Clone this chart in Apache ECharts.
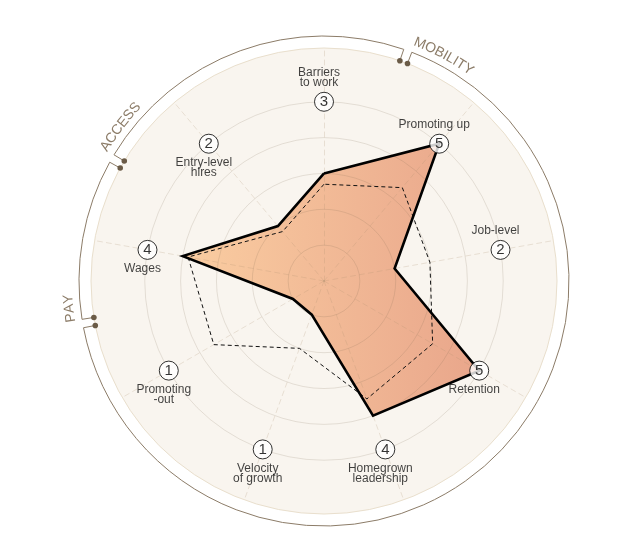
<!DOCTYPE html>
<html>
<head>
<meta charset="utf-8">
<script src="https://cdn.jsdelivr.net/npm/echarts@6/dist/echarts.min.js"></script>
<style>
  html, body { margin: 0; padding: 0; background: #fff; }
  #chart { width: 644px; height: 547px; }
</style>
</head>
<body>
<div id="chart"></div>
<script>
// indicators, clockwise from the top
const categories = ['Barriers\nto work', 'Promoting up', 'Job-level', 'Retention', 'Homegrown\nleadership',
  'Velocity\nof growth', 'Promoting\n-out', 'Wages', 'Entry-level\nhires']
const scores = [3, 5, 2, 5, 4, 1, 1, 4, 2]
// dashed reference outline
const benchmark = [2.7, 3.4, 3.0, 3.5, 3.5, 2.0, 3.55, 3.85, 1.8]
const groups = ['ACCESS', 'MOBILITY', 'MOBILITY', 'MOBILITY', 'MOBILITY', 'MOBILITY', 'MOBILITY', 'PAY', 'ACCESS']
const scaleMax = 5

// layout
const CX = 324, CY = 281
const DISK_R = 233          // beige disk
const AXIS_MAX = 6.5        // value at disk edge (5 sits at ~179px)
const ARC_R = 245
const GROUP_TEXT_R = 256
const FONT = '"Liberation Sans", Arial, Helvetica, sans-serif'
const n = categories.length
const step = 360 / n
const labelAbove = [0, 1, 2]   // names drawn above the badge

// radar runs counter-clockwise, so feed it in reverse order
const order = [0].concat(categories.map((_, i) => n - 1 - i).slice(0, n - 1))
const indicator = order.map(i => ({ name: categories[i], min: 0, max: AXIS_MAX }))

// ring colours: ticks every 0.5, rings visible at 1..5
const ringColors = []
const edgeColors = []
for (let i = 0; i <= AXIS_MAX * 2; i++) {
  ringColors.push(i % 2 === 0 && i > 0 && i <= scaleMax * 2 ? 'rgba(120,100,80,0.17)' : 'rgba(0,0,0,0)')
  edgeColors.push(i === AXIS_MAX * 2 ? '#e9dfcd' : 'rgba(0,0,0,0)')
}

// ----- outer group arcs -----
const rad = d => d * Math.PI / 180
const polarXY = (deg, r) => [CX + r * Math.sin(rad(deg)), CY - r * Math.cos(rad(deg))]
const graphics = []
const boundaries = []
for (let i = 0; i < n; i++) {
  if (groups[i] !== groups[(i + 1) % n]) boundaries.push({ at: (i + 0.5) * step, next: groups[(i + 1) % n] })
}
const measure = document.createElement('canvas').getContext('2d')
measure.font = '14px ' + FONT
boundaries.forEach((b, k) => {
  const nextB = boundaries[(k + 1) % boundaries.length]
  let start = b.at + 1
  let end = nextB.at - 1
  if (end <= start) end += 360
  graphics.push({
    type: 'arc', silent: true,
    shape: { cx: CX, cy: CY, r: ARC_R, startAngle: rad(start - 90), endAngle: rad(end - 90), clockwise: true },
    style: { stroke: '#8c7c68', fill: 'none', lineWidth: 1 }
  });
  [b.at - 1, b.at + 1].forEach(a => {
    const p1 = polarXY(a, ARC_R), p2 = polarXY(a, DISK_R + 2)
    graphics.push({ type: 'line', silent: true, shape: { x1: p1[0], y1: p1[1], x2: p2[0], y2: p2[1] },
      style: { stroke: '#8c7c68', lineWidth: 1 } })
    const d = polarXY(a, DISK_R)
    graphics.push({ type: 'circle', silent: true, z: 10, shape: { cx: d[0], cy: d[1], r: 2.8 }, style: { fill: '#6b5b47' } })
  })
  // group name, letter by letter along the arc
  let acc = start - 0.3
  for (const ch of b.next) {
    const w = measure.measureText(ch).width
    const dw = w / GROUP_TEXT_R * 180 / Math.PI
    const mid = acc + dw / 2
    const p = polarXY(mid, GROUP_TEXT_R)
    graphics.push({
      type: 'text', silent: true, x: p[0], y: p[1], rotation: -rad(mid),
      style: { text: ch, fontSize: 14, fontFamily: FONT, fill: '#8c7c68', align: 'center', verticalAlign: 'middle' }
    })
    acc += dw
  }
})

const chart = echarts.init(document.getElementById('chart'))

const radarBase = {
  center: [CX, CY], radius: DISK_R, shape: 'circle', startAngle: 90, splitNumber: AXIS_MAX * 2,
  indicator, axisName: { show: false }, axisTick: { show: false }, axisLabel: { show: false }
}

const scoreValues = order.map(i => scores[i])

chart.setOption({
  animation: false,
  backgroundColor: '#fff',
  radar: [
    Object.assign({}, radarBase, {
      z: 0,
      axisLine: { show: false },
      splitLine: { show: true, lineStyle: { color: edgeColors, width: 1 } },
      splitArea: { show: true, areaStyle: { color: ['#f9f5ef'] } }
    }),
    Object.assign({}, radarBase, {
      z: 3,
      axisLine: { show: true, lineStyle: { color: 'rgba(170,140,110,0.22)', width: 1, type: [5, 4] } },
      splitLine: { show: true, lineStyle: { color: ringColors, width: 1 } },
      splitArea: { show: false }
    })
  ],
  polar: { center: [CX, CY], radius: DISK_R },
  angleAxis: { type: 'value', min: 0, max: 360, startAngle: 90, clockwise: true, show: false,
    splitLine: { show: false }, axisLine: { show: false } },
  radiusAxis: { type: 'value', min: 0, max: AXIS_MAX, show: false, splitLine: { show: false } },
  graphic: graphics,
  series: [
    {
      // score area
      type: 'radar', radarIndex: 0, z: 2, symbol: 'none', silent: true,
      lineStyle: { width: 0, opacity: 0 },
      areaStyle: {
        opacity: 1,
        color: new echarts.graphic.LinearGradient(0, 0, 1, 0, [
          { offset: 0, color: '#facda1' },
          { offset: 1, color: '#e9a68b' }
        ])
      },
      data: [{ value: scoreValues }]
    },
    {
      type: 'radar', radarIndex: 0, z: 4, symbol: 'none', silent: true,
      lineStyle: { color: '#111', width: 1, type: [4, 3] },
      data: [{ value: order.map(i => benchmark[i]) }]
    },
    {
      // score outline on top of the fill
      type: 'radar', radarIndex: 0, z: 4, symbol: 'none', silent: true,
      lineStyle: { color: '#000', width: 2.6, join: 'miter', miterLimit: 20 },
      data: [{ value: scoreValues }]
    },
    {
      // badges with the score
      type: 'scatter', coordinateSystem: 'polar', z: 5, silent: true,
      symbol: 'circle', symbolSize: 19,
      itemStyle: { color: '#fff', borderColor: '#000', borderWidth: 1 },
      label: { show: true, position: 'inside', color: '#000', fontSize: 15, fontFamily: FONT },
      data: categories.map((c, i) => ({ value: [scaleMax, i * step], label: { formatter: String(scores[i]) } }))
    },
    {
      // indicator names
      type: 'scatter', coordinateSystem: 'polar', z: 5, silent: true,
      symbol: 'circle', symbolSize: 19,
      itemStyle: { color: 'rgba(0,0,0,0)' },
      label: { show: true, color: '#111', fontSize: 12, lineHeight: 10, fontFamily: FONT,
        distance: 4.5, offset: [-5, 0], formatter: '{b}' },
      data: categories.map((c, i) => ({
        name: c, value: [scaleMax, i * step],
        label: { position: labelAbove.indexOf(i) >= 0 ? 'top' : 'bottom' }
      }))
    }
  ]
})
</script>
</body>
</html>
